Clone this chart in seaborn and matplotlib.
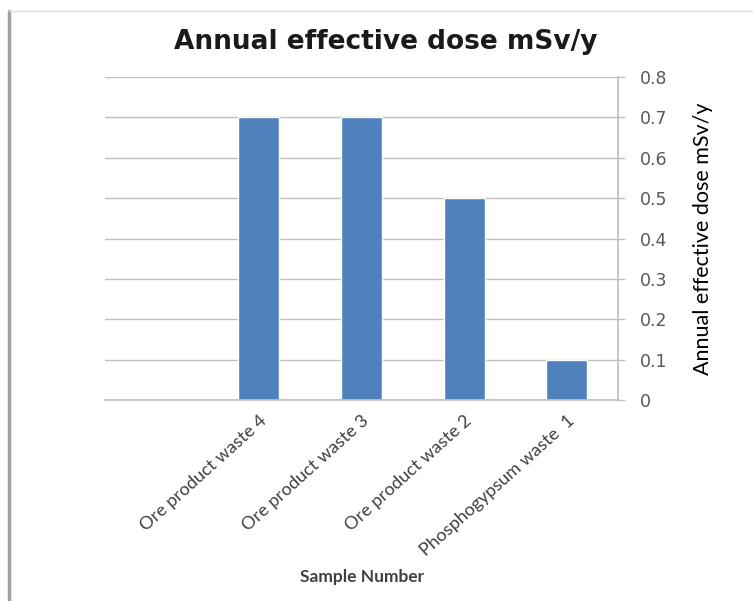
import matplotlib
matplotlib.use("Agg")
import matplotlib.pyplot as plt
import matplotlib.ticker as mticker
import pandas as pd
import seaborn as sns
from matplotlib.lines import Line2D

# data (first slot on the axis is empty)
SLOTS = ["", "Ore product waste 4", "Ore product waste 3",
         "Ore product waste 2", "Phosphogypsum waste  1"]
SAMPLES = ["Ore product waste 4", "Ore product waste 3",
           "Ore product waste 2", "Phosphogypsum waste  1"]
DOSE = [0.7, 0.7, 0.5, 0.1]
Y_TICKS = [0, 0.1, 0.2, 0.3, 0.4, 0.5, 0.6, 0.7, 0.8]

BAR_BLUE = "#4F81BD"
GRID_GRAY = "#BFBFBF"
TEXT_GRAY = "#404040"

sns.set_theme(style="white")
plt.rcParams["font.family"] = ["Lato", "DejaVu Sans"]

df = pd.DataFrame({"sample": SAMPLES, "dose": DOSE})

fig = plt.figure(figsize=(7.53, 6.01), dpi=100)
ax = fig.add_axes([105 / 753, 1 - 400 / 601, 513 / 753, 323 / 601])

sns.barplot(data=df, x="sample", y="dose", order=SLOTS, color=BAR_BLUE,
            saturation=1, width=0.4, ax=ax)

ax.set_ylim(0, 0.8)
ax.set_xlim(-0.5, 4.5)
ax.yaxis.tick_right()
ax.yaxis.set_label_position("right")
ax.set_yticks(Y_TICKS)
ax.yaxis.set_major_formatter(mticker.FuncFormatter(lambda v, _: f"{v:g}"))
ax.tick_params(axis="y", right=True, length=5, width=1, color=GRID_GRAY,
               pad=11, labelsize=12.5, labelcolor="#595959")
for lab in ax.get_yticklabels():
    lab.set_fontfamily("DejaVu Sans")
ax.tick_params(axis="x", bottom=False, pad=3)
ax.set_xticks(range(len(SLOTS)))
ax.set_xticklabels(SLOTS, rotation=42, ha="right", rotation_mode="anchor",
                   fontsize=13, color=TEXT_GRAY)

ax.grid(axis="y", color=GRID_GRAY, linewidth=1)
ax.set_axisbelow(True)
for side in ["top", "left"]:
    ax.spines[side].set_visible(False)
ax.spines["right"].set_color(GRID_GRAY)
ax.spines["bottom"].set_color(GRID_GRAY)

ax.set_xlabel("")
ax.set_ylabel("Annual effective dose mSv/y", fontsize=15.5, color="black",
              labelpad=18)

fig.text(386 / 753, 1 - 42 / 601, "Annual effective dose mSv/y",
         ha="center", va="center", fontsize=19, fontweight="bold",
         family="DejaVu Sans", color="#1a1a1a")
fig.text(362 / 753, 1 - 577 / 601, "Sample Number", ha="center", va="center",
         fontsize=12.5, fontweight="bold", color=TEXT_GRAY)

# frame edges visible in the reference scan
fig.add_artist(Line2D([9 / 753, 9 / 753], [0, 1 - 11 / 601],
                      transform=fig.transFigure, color="#A0A0A0", lw=2.5))
fig.add_artist(Line2D([9 / 753, 1], [1 - 11 / 601, 1 - 11 / 601],
                      transform=fig.transFigure, color="#E0E0E0", lw=1))

fig.savefig("out.png", dpi=100)
